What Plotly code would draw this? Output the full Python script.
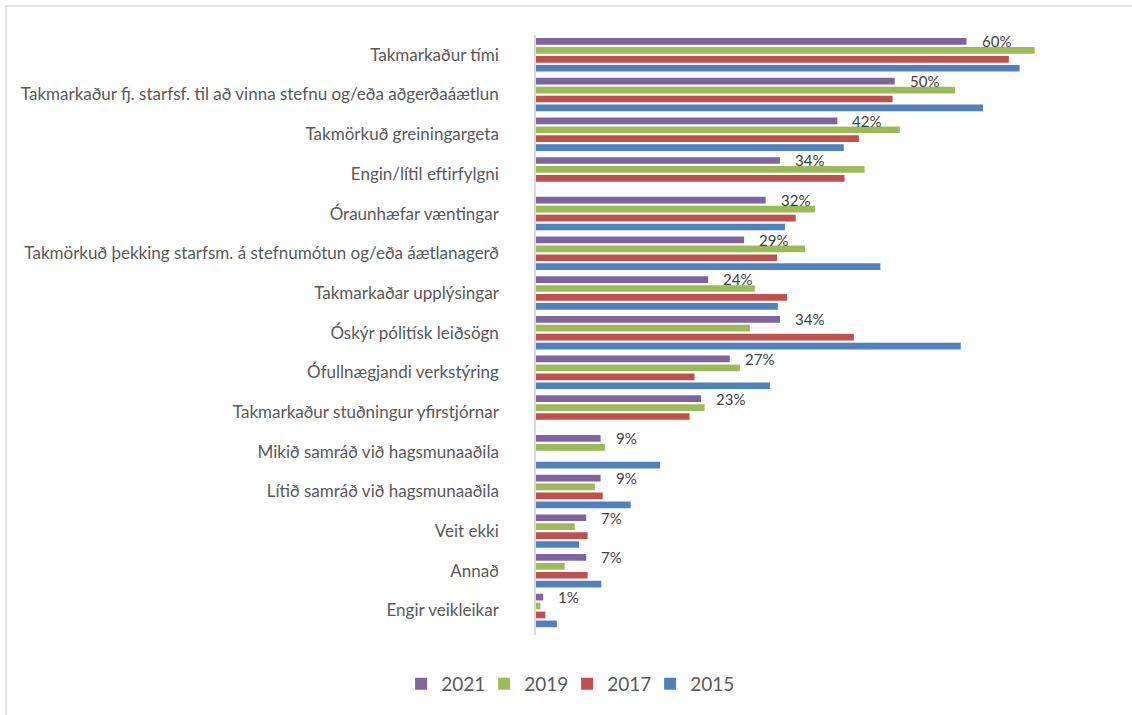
import plotly.graph_objects as go

categories = [
    "Takmarkaður tími",
    "Takmarkaður fj. starfsf. til að vinna stefnu og/eða aðgerðaáætlun",
    "Takmörkuð greiningargeta",
    "Engin/lítil eftirfylgni",
    "Óraunhæfar væntingar",
    "Takmörkuð þekking starfsm. á stefnumótun og/eða áætlanagerð",
    "Takmarkaðar upplýsingar",
    "Óskýr pólitísk leiðsögn",
    "Ófullnægjandi verkstýring",
    "Takmarkaður stuðningur yfirstjórnar",
    "Mikið samráð við hagsmunaaðila",
    "Lítið samráð við hagsmunaaðila",
    "Veit ekki",
    "Annað",
    "Engir veikleikar",
]

v2021 = [60, 50, 42, 34, 32, 29, 24, 34, 27, 23, 9, 9, 7, 7, 1]
v2019 = [69.5, 58.4, 50.7, 45.8, 38.9, 37.5, 30.5, 29.8, 28.4, 23.5, 9.6, 8.2, 5.4, 4.0, 0.6]
v2017 = [65.9, 49.7, 45.0, 43.0, 36.2, 33.6, 35.0, 44.3, 22.1, 21.4, 0, 9.3, 7.2, 7.2, 1.3]
v2015 = [67.4, 62.3, 42.9, 0, 34.7, 48.0, 33.7, 59.2, 32.6, 0, 17.3, 13.2, 6.0, 9.1, 2.9]

series_names = ["2021", "2019", "2017", "2015"]
series_values = [v2021, v2019, v2017, v2015]
colors = ["#8064A2", "#9BBB59", "#C0504D", "#4F81BD"]

FONT = "Lato"
TXT = "#595959"

fig = go.Figure()
for name, vals, col in zip(series_names, series_values, colors):
    fig.add_trace(go.Bar(
        y=categories, x=vals, name=name, orientation="h",
        marker=dict(color=col, line=dict(width=0)),
        hoverinfo="x+y",
    ))

# data labels for 2021
for cat, v in zip(categories, v2021):
    fig.add_annotation(
        x=v, y=cat, xref="x", yref="y", text=f"{v:.0f}%",
        showarrow=False, xanchor="left", yanchor="middle",
        xshift=13, yshift=13.5,
        font=dict(family=FONT, size=15, color="#404040"),
    )

W, H = 1132, 715
ml, mr, mt, mb = 536, 22, 35, 80
pw, ph = W - ml - mr, H - mt - mb

def px_to_paper_x(px):
    return (px - ml) / pw

def px_to_paper_y(py):
    return (H - mb - py) / ph

fig.add_shape(
    type="rect", xref="paper", yref="paper",
    x0=px_to_paper_x(6), x1=px_to_paper_x(W + 10),
    y0=px_to_paper_y(H + 10), y1=px_to_paper_y(6),
    line=dict(color="#D9D9D9", width=1.5), fillcolor="rgba(0,0,0,0)",
    layer="below",
)

fig.update_layout(
    width=W, height=H,
    margin=dict(l=ml, r=mr, t=mt, b=mb, pad=0),
    paper_bgcolor="white", plot_bgcolor="white",
    barmode="group", bargap=0.1, bargroupgap=0.25,
    font=dict(family=FONT, color=TXT),
    showlegend=True,
    legend=dict(
        orientation="h", xref="container", yref="container",
        x=0.501, y=1 - 684 / H, xanchor="center", yanchor="middle",
        font=dict(family=FONT, size=19, color=TXT),
        traceorder="normal", itemwidth=30, entrywidth=38,
    ),
    xaxis=dict(
        range=[0, 80], showgrid=False, zeroline=False, showline=False,
        showticklabels=False, ticks="", fixedrange=True,
    ),
    yaxis=dict(
        autorange="reversed", showgrid=False, zeroline=False,
        showline=True, linecolor="#D9D9D9", linewidth=1.5,
        ticks="", ticklabelstandoff=32,
        tickfont=dict(family=FONT, size=17, color=TXT),
    ),
)

fig.write_html(
    "out.html",
    config={"displayModeBar": False},
    post_script="document.body.style.margin='0';",
)
